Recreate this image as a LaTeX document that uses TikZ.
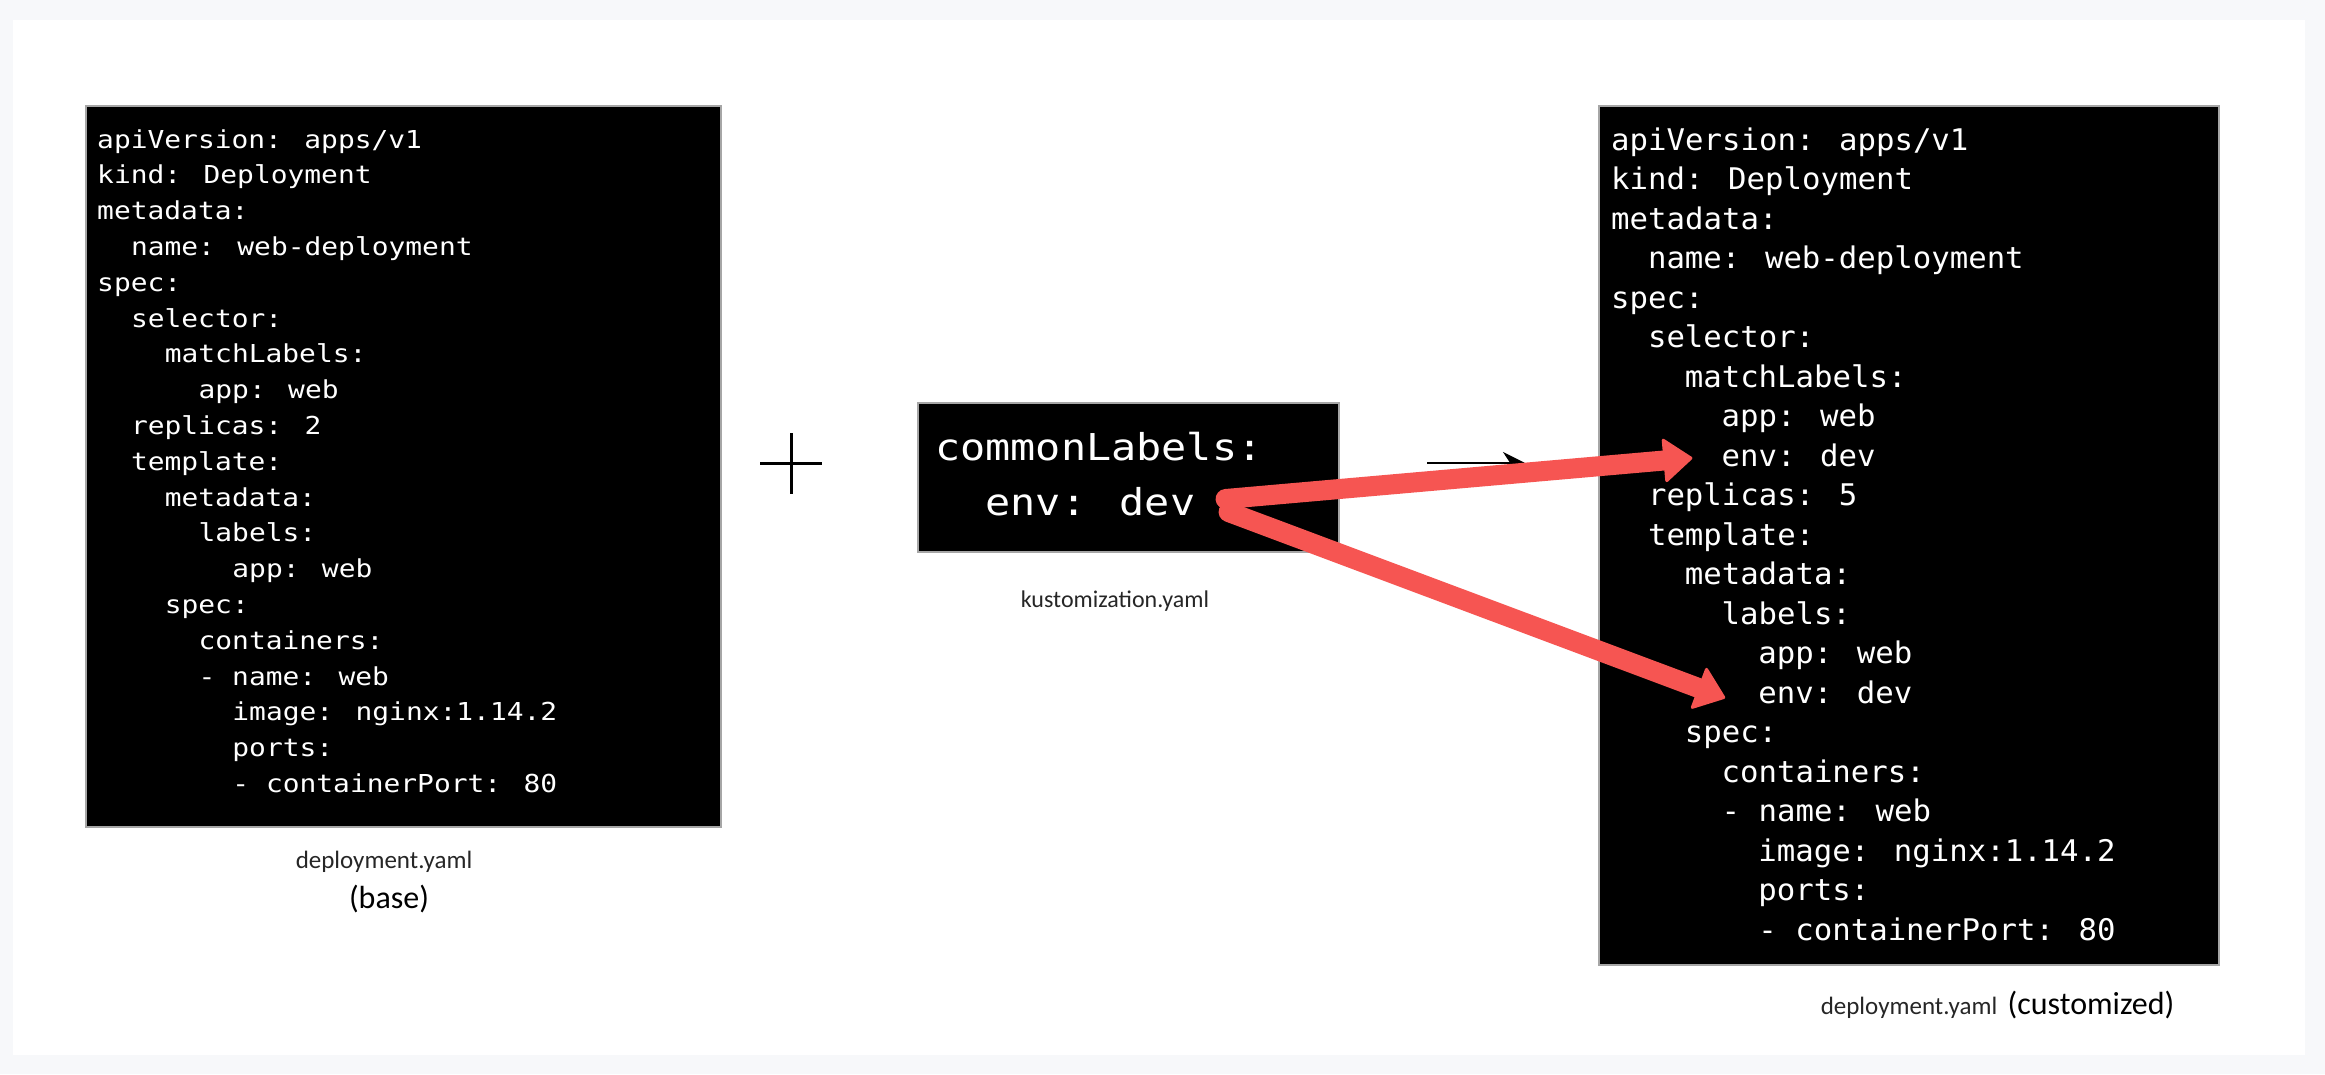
\documentclass[tikz,border=0pt]{standalone}
\usepackage{fontspec}
\usetikzlibrary{arrows.meta}
\newfontfamily\yamlfont{DejaVu Sans Mono}[FakeStretch=1.13]
\newfontfamily\wideyamlfont{DejaVu Sans Mono}[FakeStretch=1.03]
\newfontfamily\notefont{Carlito}
\definecolor{pagebg}{HTML}{F7F8FA}
\definecolor{skitchred}{HTML}{F65552}
\tikzset{
  codebox/.style={fill=black, draw=black!35, line width=1.5pt, anchor=north west, inner sep=0pt},
  codeline/.style={text=white, anchor=base west, inner sep=0pt},
  note/.style={font=\notefont\fontsize{25}{30}\selectfont, text=black!85, anchor=base, inner sep=0pt},
  notebig/.style={font=\notefont\fontsize{32}{38}\selectfont, anchor=base, inner sep=0pt},
  redarrow/.style={draw=skitchred, line width=20pt, line cap=round,
    -{Triangle[round, line width=3pt, length=30pt, width=46pt]},
    preaction={draw=black, opacity=0.15, transform canvas={xshift=2pt, yshift=-5pt}}},
}

\begin{document}
\begin{tikzpicture}[x=1pt, y=-1pt]
        \useasboundingbox (0,0) rectangle (2325,1074);
        \fill[pagebg] (0,0) rectangle (2325,1074);
        \fill[white] (13,20) rectangle (2305,1055);
        % base deployment.yaml
        \node[codebox, minimum width=635pt, minimum height=721pt] (basebox) at (85,105) {};
        \foreach \ind/\txt [count=\i] in {0/{apiVersion: apps/v1}, 0/{kind: Deployment},
            0/{metadata:}, 2/{name: web-deployment}, 0/{spec:}, 2/{selector:},
            4/{matchLabels:}, 6/{app: web}, 2/{replicas: 2}, 2/{template:},
            4/{metadata:}, 6/{labels:}, 8/{app: web}, 4/{spec:}, 6/{containers:},
            6/{- name: web}, 8/{image: nginx:1.14.2}, 8/{ports:}, 8/{- containerPort: 80}}
            \node[codeline, font=\yamlfont\fontsize{24.7}{30}\selectfont] (b\i)
                at ({97+\ind*16.9},{148+(\i-1)*35.8}) {\txt};
        \node[note] (basename) at (384,868) {deployment.yaml};
        \node[notebig] (basetag) at (389,908) {(base)};
        \draw[line width=3pt] (760,463) -- (822,463) (791,433) -- (791,494);
        % kustomization.yaml
        \node[codebox, minimum width=421pt, minimum height=149pt] (kustbox) at (917,402) {};
        \foreach \ind/\txt [count=\i] in {0/{commonLabels:}, 2/{env: dev}}
            \node[codeline, font=\yamlfont\fontsize{37}{44}\selectfont] (c\i)
                at ({935+\ind*25.2},{460+(\i-1)*55}) {\txt};
        \node[note, font=\notefont\fontsize{24}{29}\selectfont] (kustname) at (1115,607) {kustomization.yaml};
        % customized deployment.yaml
        \node[codebox, minimum width=620pt, minimum height=859pt] (custbox) at (1598,105) {};
        \foreach \ind/\txt [count=\i] in {0/{apiVersion: apps/v1}, 0/{kind: Deployment},
            0/{metadata:}, 2/{name: web-deployment}, 0/{spec:}, 2/{selector:},
            4/{matchLabels:}, 6/{app: web}, 6/{env: dev}, 2/{replicas: 5}, 2/{template:},
            4/{metadata:}, 6/{labels:}, 8/{app: web}, 8/{env: dev}, 4/{spec:},
            6/{containers:}, 6/{- name: web}, 8/{image: nginx:1.14.2}, 8/{ports:},
            8/{- containerPort: 80}}
            \node[codeline, font=\wideyamlfont\fontsize{29.8}{36}\selectfont] (r\i)
                at ({1611+\ind*18.4},{150+(\i-1)*39.5}) {\txt};
        \node[note] (custname) at (1909,1014) {deployment.yaml};
        \node[notebig, anchor=base west] (custtag) at ([xshift=10pt]custname.base east) {(customized)};
        % arrows
        \coordinate (mergeA) at (1427,463);
        \coordinate (mergeB) at (1525,463);
        \draw[line width=2.2pt, -{Stealth[length=22pt, width=22pt]}] (mergeA) -- (mergeB);
        \coordinate (src1) at ([xshift=30pt, yshift=16pt]c2.base east);
        \coordinate (src2) at ([xshift=33pt, yshift=3pt]c2.base east);
        \coordinate (tip1) at ([xshift=-29pt, yshift=8pt]r9.base west);
        \coordinate (tip2) at ([xshift=-33pt, yshift=5pt]r15.base west);
        \draw[redarrow] (src1) -- (tip1);
        \draw[redarrow] (src2) -- (tip2);
\end{tikzpicture}
\end{document}
